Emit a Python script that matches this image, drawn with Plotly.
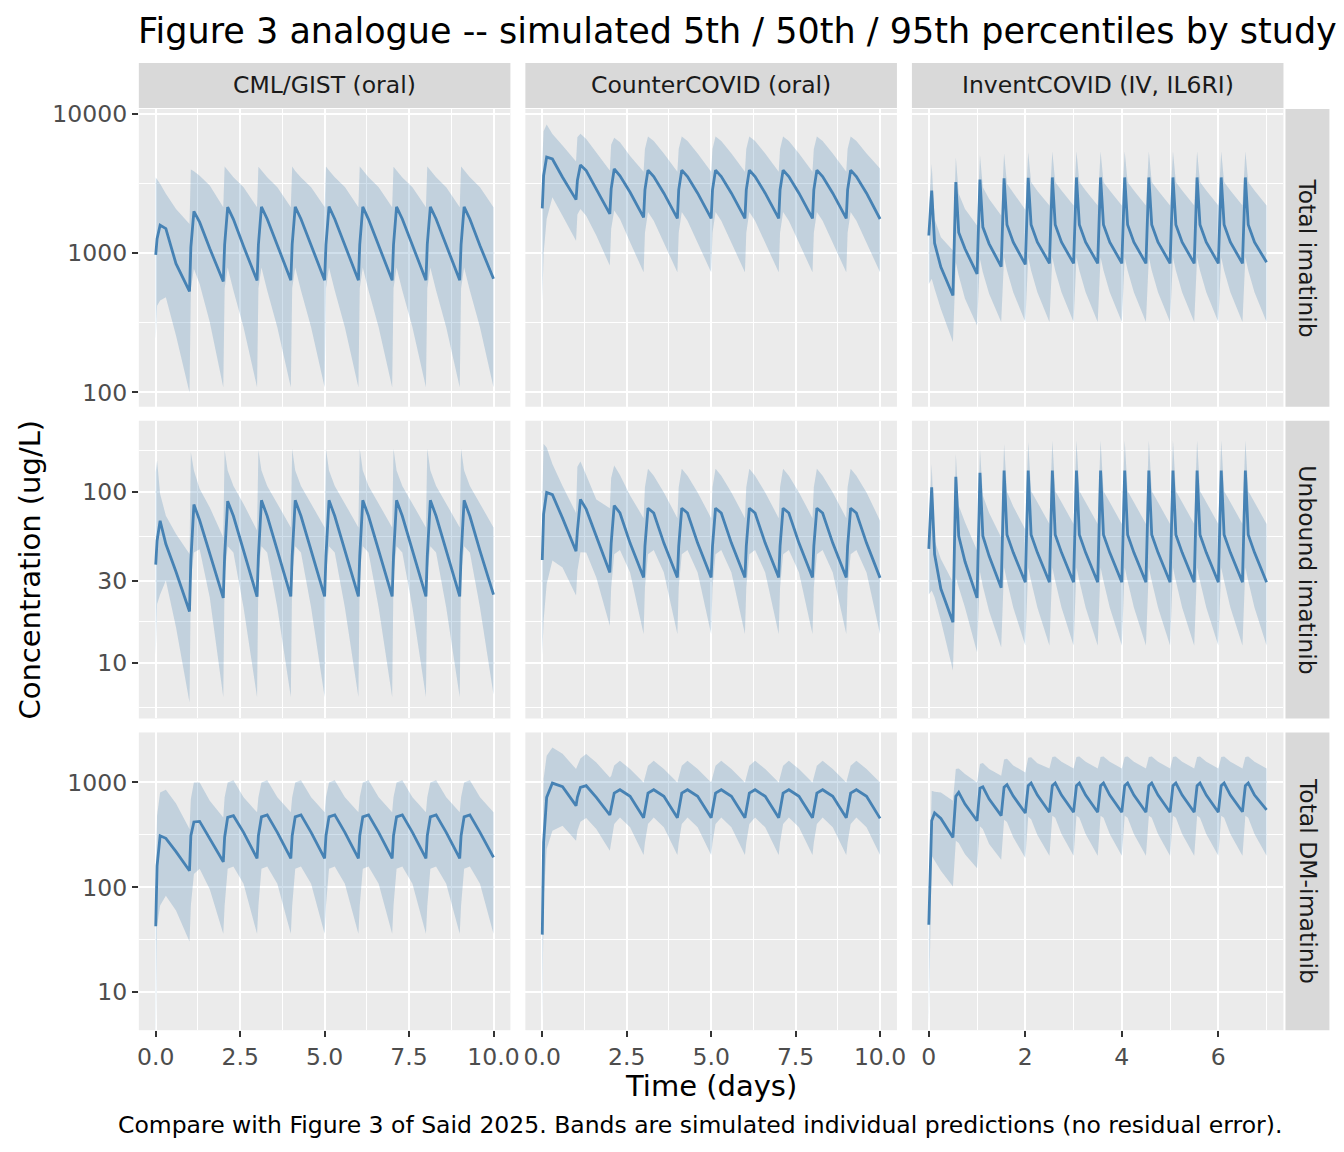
import plotly.graph_objects as go

W, H = 1344, 1152

STUDIES = ["CML/GIST (oral)", "CounterCOVID (oral)", "InventCOVID (IV, IL6RI)"]
ANALYTES = ["Total imatinib", "Unbound imatinib", "Total DM-imatinib"]

# sampling times (days): once-daily oral / twice-daily IV
T_ORAL = [
    0, 0.04, 0.13, 0.3, 0.6,
    1, 1.04, 1.13, 1.3, 1.6,
    2, 2.04, 2.13, 2.3, 2.6,
    3, 3.04, 3.13, 3.3, 3.6,
    4, 4.04, 4.13, 4.3, 4.6,
    5, 5.04, 5.13, 5.3, 5.6,
    6, 6.04, 6.13, 6.3, 6.6,
    7, 7.04, 7.13, 7.3, 7.6,
    8, 8.04, 8.13, 8.3, 8.6,
    9, 9.04, 9.13, 9.3, 9.6,
    10,
]
T_IV = [
    0, 0.06, 0.12, 0.25,
    0.5, 0.56, 0.62, 0.75,
    1, 1.06, 1.12, 1.25,
    1.5, 1.56, 1.62, 1.75,
    2, 2.06, 2.12, 2.25,
    2.5, 2.56, 2.62, 2.75,
    3, 3.06, 3.12, 3.25,
    3.5, 3.56, 3.62, 3.75,
    4, 4.06, 4.12, 4.25,
    4.5, 4.56, 4.62, 4.75,
    5, 5.06, 5.12, 5.25,
    5.5, 5.56, 5.62, 5.75,
    6, 6.06, 6.12, 6.25,
    6.5, 6.56, 6.62, 6.75,
    7,
]

# ---- Total imatinib (ug/L) ----
CML_TOT_P50 = [
    973, 1270, 1590, 1500, 840,
    531, 1100, 2000, 1670, 1080,
    627, 1150, 2140, 1750, 1120,
    636, 1150, 2150, 1760, 1130,
    640, 1160, 2150, 1760, 1130,
    640, 1150, 2160, 1760, 1130,
    640, 1150, 2150, 1750, 1130,
    638, 1150, 2150, 1760, 1130,
    640, 1160, 2150, 1760, 1130,
    640, 1150, 2150, 1760, 1130,
    655,
]
CML_TOT_P95 = [
    3500, 3400, 3150, 2670, 2080,
    1620, 4000, 3880, 3600, 3060,
    2140, 4200, 3920, 3510, 2980,
    2140, 4180, 3920, 3510, 2980,
    2140, 4200, 3900, 3500, 2980,
    2150, 4200, 3920, 3510, 2990,
    2140, 4200, 3920, 3510, 2980,
    2140, 4180, 3920, 3500, 2980,
    2140, 4200, 3920, 3510, 2980,
    2140, 4200, 3920, 3510, 2980,
    2140,
]
CML_TOT_P05 = [
    240, 420, 457, 483, 256,
    100, 550, 773, 600, 320,
    109, 560, 790, 540, 294,
    109, 560, 790, 540, 294,
    109, 560, 790, 540, 294,
    109, 560, 790, 540, 294,
    109, 560, 790, 540, 294,
    109, 560, 790, 540, 294,
    109, 560, 790, 540, 294,
    109, 560, 790, 540, 294,
    109,
]
CC_TOT_P50 = [
    2100, 3600, 4900, 4750, 3510,
    2425, 3330, 4300, 3920, 2900,
    1914, 2900, 4030, 3600, 2740,
    1810, 2850, 3950, 3550, 2700,
    1780, 2850, 3950, 3550, 2700,
    1780, 2850, 3950, 3550, 2700,
    1780, 2850, 3950, 3550, 2700,
    1780, 2850, 3950, 3550, 2700,
    1780, 2850, 3950, 3550, 2700,
    1780, 2850, 3950, 3550, 2700,
    1760,
]
CC_TOT_P95 = [
    4500, 7500, 8400, 7180, 5930,
    4550, 6800, 7200, 6600, 5300,
    3920, 6000, 6750, 6270, 5000,
    3850, 5600, 6900, 6400, 5200,
    3850, 5600, 6900, 6400, 5200,
    3850, 5600, 6900, 6400, 5200,
    3850, 5600, 6900, 6400, 5200,
    3850, 5600, 6900, 6400, 5200,
    3850, 5600, 6900, 6400, 5200,
    3850, 5600, 6900, 6400, 5200,
    4050,
]
CC_TOT_P05 = [
    450, 1000, 1760, 2520, 1860,
    1230, 1900, 2080, 1860, 1340,
    815, 1500, 2030, 1760, 1200,
    730, 1400, 1980, 1710, 1200,
    730, 1400, 1980, 1710, 1200,
    730, 1400, 1980, 1710, 1200,
    730, 1400, 1980, 1710, 1200,
    730, 1400, 1980, 1710, 1200,
    730, 1400, 1980, 1710, 1200,
    730, 1400, 1980, 1710, 1200,
    730,
]
INV_TOT_P50 = [
    1340, 2820, 1180, 794,
    497, 3240, 1410, 1075,
    710, 3380, 1540, 1167,
    800, 3450, 1600, 1200,
    830, 3480, 1600, 1200,
    845, 3500, 1600, 1200,
    845, 3500, 1600, 1200,
    845, 3500, 1600, 1200,
    845, 3500, 1600, 1200,
    845, 3500, 1600, 1200,
    845, 3500, 1600, 1200,
    845, 3500, 1600, 1200,
    845, 3500, 1600, 1200,
    845, 3500, 1600, 1200,
    860,
]
INV_TOT_P95 = [
    2080, 4380, 1760, 1300,
    1045, 4890, 2670, 2080,
    1580, 5080, 2980, 2450,
    1865, 5200, 3150, 2700,
    2050, 5300, 3240, 2800,
    2200, 5370, 3240, 2820,
    2200, 5370, 3240, 2820,
    2200, 5370, 3240, 2820,
    2200, 5370, 3240, 2820,
    2200, 5370, 3240, 2820,
    2200, 5370, 3240, 2820,
    2200, 5370, 3240, 2820,
    2200, 5370, 3240, 2820,
    2200, 5370, 3240, 2820,
    2200,
]
INV_TOT_P05 = [
    600, 655, 555, 398,
    230, 861, 692, 470,
    302, 910, 731, 511,
    320, 935, 751, 525,
    320, 935, 751, 525,
    320, 935, 751, 525,
    320, 935, 751, 525,
    320, 935, 751, 525,
    320, 935, 751, 525,
    320, 935, 751, 525,
    320, 935, 751, 525,
    320, 935, 751, 525,
    320, 935, 751, 525,
    320, 935, 751, 525,
    320,
]

# ---- Unbound imatinib (ug/L) ----
CML_UNB_P50 = [
    37.4, 51.6, 67.6, 49.4, 34,
    19.9, 39.5, 84, 68, 43,
    23.9, 42, 88, 72, 45,
    24.3, 42, 89, 72, 45,
    24.4, 42, 89, 72, 45,
    24.4, 42, 89, 72, 45,
    24.4, 42, 89, 72, 45,
    24.4, 42, 89, 72, 45,
    24.4, 42, 89, 72, 45,
    24.4, 42, 89, 72, 45,
    25,
]
CML_UNB_P95 = [
    130, 152, 96.8, 72.4, 56.5,
    43.2, 170, 133, 104, 80.9,
    54, 175, 133, 108, 84.7,
    59.2, 175, 133, 108, 84.7,
    61.8, 178, 133, 108, 84.7,
    61.8, 178, 133, 108, 84.7,
    61.8, 178, 133, 108, 84.7,
    61.8, 178, 133, 108, 84.7,
    61.8, 178, 133, 108, 84.7,
    61.8, 178, 133, 108, 84.7,
    61.8,
]
CML_UNB_P05 = [
    11, 22, 25, 30.2, 16.1,
    5.86, 30, 44, 46, 24,
    6.3, 33, 48, 44, 21,
    6.3, 33, 48, 44, 21,
    6.3, 33, 48, 44, 21,
    6.3, 33, 48, 44, 21,
    6.3, 33, 48, 44, 21,
    6.3, 33, 48, 44, 21,
    6.3, 33, 48, 44, 21,
    6.3, 33, 48, 44, 21,
    6.5,
]
CC_UNB_P50 = [
    39.8, 74, 99, 96, 70,
    44.8, 59, 90, 79, 55,
    33.7, 50, 83, 75, 50,
    31.5, 48, 80, 75, 50,
    31.5, 48, 80, 75, 50,
    31.5, 48, 80, 75, 50,
    31.5, 48, 80, 75, 50,
    31.5, 48, 80, 75, 50,
    31.5, 48, 80, 75, 50,
    31.5, 48, 80, 75, 50,
    31.3,
]
CC_UNB_P95 = [
    90, 190, 181, 145, 108,
    75, 140, 150, 125, 90,
    80, 120, 142, 125, 95,
    70, 106, 136, 124, 99,
    70, 106, 136, 124, 99,
    70, 106, 136, 124, 99,
    70, 106, 136, 124, 99,
    70, 106, 136, 124, 99,
    70, 106, 136, 124, 99,
    70, 106, 136, 124, 99,
    67.6,
]
CC_UNB_P05 = [
    11, 17.6, 28.8, 39.5, 36,
    24.7, 34.5, 44.2, 44, 31.5,
    16.4, 27.6, 43, 45.6, 33.7,
    14.7, 27.6, 43, 45.6, 33.7,
    14.7, 27.6, 43, 45.6, 33.7,
    14.7, 27.6, 43, 45.6, 33.7,
    14.7, 27.6, 43, 45.6, 33.7,
    14.7, 27.6, 43, 45.6, 33.7,
    14.7, 27.6, 43, 45.6, 33.7,
    14.7, 27.6, 43, 45.6, 33.7,
    14.7,
]
INV_UNB_P50 = [
    46.3, 106, 43, 27,
    17.2, 122, 55, 39,
    23.9, 129, 55, 42,
    27.4, 133, 56, 44,
    29.5, 133, 56, 44,
    29.5, 133, 56, 44,
    29.5, 133, 56, 44,
    29.5, 133, 56, 44,
    29.5, 133, 56, 44,
    29.5, 133, 56, 44,
    29.5, 133, 56, 44,
    29.5, 133, 56, 44,
    29.5, 133, 56, 44,
    29.5, 133, 56, 44,
    29.5,
]
INV_UNB_P95 = [
    60, 145, 51.6, 40.4,
    29.5, 166, 82.8, 66.2,
    45.2, 178, 95, 75,
    54, 190, 100, 82,
    60, 195, 101, 86.7,
    64.7, 199, 101, 86.7,
    64.7, 199, 101, 86.7,
    64.7, 199, 101, 86.7,
    64.7, 199, 101, 86.7,
    64.7, 199, 101, 86.7,
    64.7, 199, 101, 86.7,
    64.7, 199, 101, 86.7,
    64.7, 199, 101, 86.7,
    64.7, 199, 101, 86.7,
    64.7,
]
INV_UNB_P05 = [
    25, 26.4, 24.1, 17.6,
    9.0, 31.5, 27.6, 21,
    11.5, 34, 28, 20,
    12.3, 36, 30, 21,
    12.6, 36, 30, 21,
    12.6, 36, 30, 21,
    12.6, 36, 30, 21,
    12.6, 36, 30, 21,
    12.6, 36, 30, 21,
    12.6, 36, 30, 21,
    12.6, 36, 30, 21,
    12.6, 36, 30, 21,
    12.6, 36, 30, 21,
    12.6, 36, 30, 21,
    12.6,
]

# ---- Total DM-imatinib (ug/L) ----
CML_DM_P50 = [
    42.5, 160, 310, 293, 219,
    144, 310, 420, 425, 293,
    175, 300, 464, 482, 334,
    189, 310, 470, 490, 334,
    189, 310, 470, 490, 334,
    189, 310, 470, 490, 334,
    189, 310, 470, 490, 334,
    189, 310, 470, 490, 334,
    189, 310, 470, 490, 334,
    189, 310, 470, 490, 334,
    193,
]
CML_DM_P95 = [
    150, 482, 803, 851, 631,
    359, 694, 1000, 1000, 668,
    464, 720, 1000, 1050, 720,
    518, 720, 1000, 1050, 720,
    518, 720, 1000, 1050, 720,
    518, 720, 1000, 1050, 720,
    518, 720, 1000, 1050, 720,
    518, 720, 1000, 1050, 720,
    518, 720, 1000, 1050, 720,
    518, 720, 1000, 1050, 720,
    518,
]
CML_DM_P05 = [
    3, 43, 67, 83, 60,
    30.4, 67, 134, 150, 96,
    36, 67, 150, 158, 108,
    36, 67, 150, 158, 108,
    36, 67, 150, 158, 108,
    36, 67, 150, 158, 108,
    36, 67, 150, 158, 108,
    36, 67, 150, 158, 108,
    36, 67, 150, 158, 108,
    36, 67, 150, 158, 108,
    36,
]
CC_DM_P50 = [
    35.4, 268, 720, 985, 910,
    600, 720, 896, 930, 720,
    489, 557, 791, 851, 736,
    460, 550, 790, 851, 736,
    460, 550, 790, 851, 736,
    460, 550, 790, 851, 736,
    460, 550, 790, 851, 736,
    460, 550, 790, 851, 736,
    460, 550, 790, 851, 736,
    460, 550, 790, 851, 736,
    454,
]
CC_DM_P95 = [
    60, 1076, 1795, 2154, 1875,
    1340, 1442, 1693, 1862, 1550,
    1116, 1150, 1450, 1607, 1340,
    1000, 1116, 1442, 1607, 1340,
    1000, 1116, 1442, 1607, 1340,
    1000, 1116, 1442, 1607, 1340,
    1000, 1116, 1442, 1607, 1340,
    1000, 1116, 1442, 1607, 1340,
    1000, 1116, 1442, 1607, 1340,
    1000, 1116, 1442, 1607, 1340,
    1000,
]
CC_DM_P05 = [
    5, 77, 232, 347, 387,
    278, 347, 422, 458, 359,
    223, 268, 401, 464, 373,
    203, 268, 401, 464, 373,
    203, 268, 401, 464, 373,
    203, 268, 401, 464, 373,
    203, 268, 401, 464, 373,
    203, 268, 401, 464, 373,
    203, 268, 401, 464, 373,
    203, 268, 401, 464, 373,
    203,
]
INV_DM_P50 = [
    44, 431, 511, 454,
    299, 736, 803, 622,
    431, 883, 909, 694,
    482, 900, 950, 740,
    511, 930, 985, 757,
    520, 930, 985, 757,
    520, 930, 985, 757,
    520, 930, 985, 757,
    520, 930, 985, 757,
    520, 930, 985, 757,
    520, 930, 985, 757,
    520, 930, 985, 757,
    520, 930, 985, 757,
    525, 930, 985, 757,
    546,
]
INV_DM_P95 = [
    58, 833, 815, 803,
    668, 1340, 1360, 1200,
    1000, 1500, 1528, 1340,
    1157, 1650, 1680, 1450,
    1245, 1720, 1740, 1520,
    1360, 1742, 1770, 1574,
    1360, 1742, 1770, 1574,
    1360, 1742, 1770, 1574,
    1360, 1742, 1770, 1574,
    1360, 1742, 1770, 1574,
    1360, 1742, 1770, 1574,
    1360, 1742, 1770, 1574,
    1360, 1742, 1770, 1574,
    1360, 1742, 1770, 1574,
    1360,
]
INV_DM_P05 = [
    5, 200, 180, 144,
    102, 278, 264, 207,
    152, 381, 359, 259,
    183, 440, 420, 300,
    190, 470, 445, 315,
    200, 482, 461, 322,
    200, 482, 461, 322,
    200, 482, 461, 322,
    200, 482, 461, 322,
    200, 482, 461, 322,
    200, 482, 461, 322,
    200, 482, 461, 322,
    200, 482, 461, 322,
    200, 482, 461, 322,
    200,
]

# (row, col, time, p05, p50, p95)
PANELS = [
    (0, 0, T_ORAL, CML_TOT_P05, CML_TOT_P50, CML_TOT_P95),
    (0, 1, T_ORAL, CC_TOT_P05, CC_TOT_P50, CC_TOT_P95),
    (0, 2, T_IV, INV_TOT_P05, INV_TOT_P50, INV_TOT_P95),
    (1, 0, T_ORAL, CML_UNB_P05, CML_UNB_P50, CML_UNB_P95),
    (1, 1, T_ORAL, CC_UNB_P05, CC_UNB_P50, CC_UNB_P95),
    (1, 2, T_IV, INV_UNB_P05, INV_UNB_P50, INV_UNB_P95),
    (2, 0, T_ORAL, CML_DM_P05, CML_DM_P50, CML_DM_P95),
    (2, 1, T_ORAL, CC_DM_P05, CC_DM_P50, CC_DM_P95),
    (2, 2, T_IV, INV_DM_P05, INV_DM_P50, INV_DM_P95),
]

# axis breaks
Y_TICKS = [[100, 1000, 10000], [10, 30, 100], [10, 100, 1000]]
Y_MINOR = [[316.2, 3162.3], [5.477, 17.32, 54.77, 173.2], [31.62, 316.2]]
Y_RANGE = [(1.897, 4.036), (0.673, 2.415), (0.638, 3.476)]
X_TICKS = [[0, 2.5, 5, 7.5, 10], [0, 2.5, 5, 7.5, 10], [0, 2, 4, 6]]
X_TICKTEXT = [["0.0", "2.5", "5.0", "7.5", "10.0"],
              ["0.0", "2.5", "5.0", "7.5", "10.0"],
              ["0", "2", "4", "6"]]
X_MINOR = [[1.25, 3.75, 6.25, 8.75], [1.25, 3.75, 6.25, 8.75], [1, 3, 5, 7]]
X_RANGE = [(-0.5, 10.5), (-0.5, 10.5), (-0.35, 7.35)]

# panel geometry as measured on the reference (pixels)
COL_PX = [(137, 509), (524, 896), (911, 1283)]
ROW_PX = [(108, 406), (420, 718), (732, 1030)]

# the captured page comes out ~0.7% smaller and 8px lower than laid out;
# lay out in pre-compensated pixels so the capture lines up with the reference
SCALE = 0.993
DROP = 8

FONT = "DejaVu Sans"
LINE = "#4682B4"
BAND = "rgba(70,130,180,0.25)"
PANEL_BG = "#EBEBEB"
STRIP_BG = "#D9D9D9"
SMALL = 23.5


def px(x):
    return (x / SCALE) / W


def py(y):
    return 1 - (y / SCALE - DROP) / H


fig = go.Figure()

for r, c, t, lo, med, hi in PANELS:
    i = r * 3 + c + 1
    xa = "x" if i == 1 else f"x{i}"
    ya = "y" if i == 1 else f"y{i}"
    fig.add_trace(go.Scatter(x=t, y=lo, mode="lines", line=dict(width=0, color=BAND),
                             xaxis=xa, yaxis=ya, hoverinfo="skip", showlegend=False))
    fig.add_trace(go.Scatter(x=t, y=hi, mode="lines", line=dict(width=0, color=BAND),
                             fill="tonexty", fillcolor=BAND,
                             xaxis=xa, yaxis=ya, hoverinfo="skip", showlegend=False))
    fig.add_trace(go.Scatter(x=t, y=med, mode="lines", line=dict(width=2.8, color=LINE),
                             xaxis=xa, yaxis=ya, showlegend=False,
                             hovertemplate="%{x:.2f} d: %{y:.0f} ug/L<extra></extra>"))

layout_axes = {}
for r in range(3):
    for c in range(3):
        i = r * 3 + c + 1
        xname = "xaxis" if i == 1 else f"xaxis{i}"
        yname = "yaxis" if i == 1 else f"yaxis{i}"
        bottom = r == 2
        left = c == 0
        layout_axes[xname] = dict(
            domain=[px(COL_PX[c][0]), px(COL_PX[c][1])],
            anchor="y" if i == 1 else f"y{i}",
            range=list(X_RANGE[c]),
            tickvals=X_TICKS[c], ticktext=X_TICKTEXT[c],
            showticklabels=bottom,
            ticks="outside" if bottom else "",
            ticklen=6, tickwidth=1.6, tickcolor="#333333",
            tickfont=dict(family=FONT, size=SMALL, color="#4D4D4D"),
            showgrid=True, gridcolor="white", gridwidth=2.4,
            minor=dict(tickvals=X_MINOR[c], showgrid=True, gridcolor="white",
                       gridwidth=1.2, ticks=""),
            zeroline=False, showline=False, fixedrange=True,
        )
        layout_axes[yname] = dict(
            domain=[py(ROW_PX[r][1]), py(ROW_PX[r][0])],
            anchor="x" if i == 1 else f"x{i}",
            type="log",
            range=list(Y_RANGE[r]),
            tickvals=Y_TICKS[r], ticktext=[str(v) for v in Y_TICKS[r]],
            showticklabels=left,
            ticks="outside" if left else "",
            ticklen=6, tickwidth=1.6, tickcolor="#333333",
            tickfont=dict(family=FONT, size=SMALL, color="#4D4D4D"),
            showgrid=True, gridcolor="white", gridwidth=2.4,
            minor=dict(tickvals=Y_MINOR[r], showgrid=True, gridcolor="white",
                       gridwidth=1.2, ticks=""),
            zeroline=False, showline=False, fixedrange=True,
        )

shapes = []
annotations = []

# top strips (study)
for c, name in enumerate(STUDIES):
    shapes.append(dict(type="rect", xref="paper", yref="paper",
                       x0=px(COL_PX[c][0]), x1=px(COL_PX[c][1]),
                       y0=py(107), y1=py(62),
                       fillcolor=STRIP_BG, line=dict(width=0), layer="below"))
    annotations.append(dict(text=name, xref="paper", yref="paper",
                            x=px((COL_PX[c][0] + COL_PX[c][1]) / 2), y=py(84.5),
                            xanchor="center", yanchor="middle", showarrow=False,
                            font=dict(family=FONT, size=SMALL, color="#1A1A1A")))

# right strips (analyte)
for r, name in enumerate(ANALYTES):
    shapes.append(dict(type="rect", xref="paper", yref="paper",
                       x0=px(1285), x1=px(1329),
                       y0=py(ROW_PX[r][1]), y1=py(ROW_PX[r][0]),
                       fillcolor=STRIP_BG, line=dict(width=0), layer="below"))
    annotations.append(dict(text=name, xref="paper", yref="paper",
                            x=px(1307), y=py((ROW_PX[r][0] + ROW_PX[r][1]) / 2),
                            xanchor="center", yanchor="middle", showarrow=False,
                            textangle=90,
                            font=dict(family=FONT, size=SMALL, color="#1A1A1A")))

annotations += [
    dict(text="Figure 3 analogue -- simulated 5th / 50th / 95th percentiles by study",
         xref="paper", yref="paper", x=px(134), y=py(30),
         xanchor="left", yanchor="middle", showarrow=False,
         font=dict(family=FONT, size=35, color="black")),
    dict(text="Time (days)", xref="paper", yref="paper", x=px(710), y=py(1086),
         xanchor="center", yanchor="middle", showarrow=False,
         font=dict(family=FONT, size=29, color="black")),
    dict(text="Concentration (ug/L)", xref="paper", yref="paper", x=px(28), y=py(569),
         xanchor="center", yanchor="middle", showarrow=False, textangle=-90,
         font=dict(family=FONT, size=29, color="black")),
    dict(text="Compare with Figure 3 of Said 2025. Bands are simulated individual "
              "predictions (no residual error).",
         xref="paper", yref="paper", x=px(1284), y=py(1125),
         xanchor="right", yanchor="middle", showarrow=False,
         font=dict(family=FONT, size=SMALL, color="black")),
]

fig.update_layout(
    width=W, height=H,
    margin=dict(l=0, r=0, t=0, b=0),
    paper_bgcolor="white",
    plot_bgcolor=PANEL_BG,
    showlegend=False,
    shapes=shapes,
    annotations=annotations,
    font=dict(family=FONT),
    **layout_axes,
)

# pin the figure to the window origin, no page margin, no modebar
PIN = (
    "document.documentElement.style.margin='0';"
    "document.body.style.margin='0';document.body.style.padding='0';"
    "document.body.style.overflow='hidden';"
    "var g=document.querySelector('.plotly-graph-div');"
    "g.style.position='absolute';g.style.left='0px';g.style.top='0px';"
)
fig.write_html("out.html", config={"displayModeBar": False}, post_script=PIN)
